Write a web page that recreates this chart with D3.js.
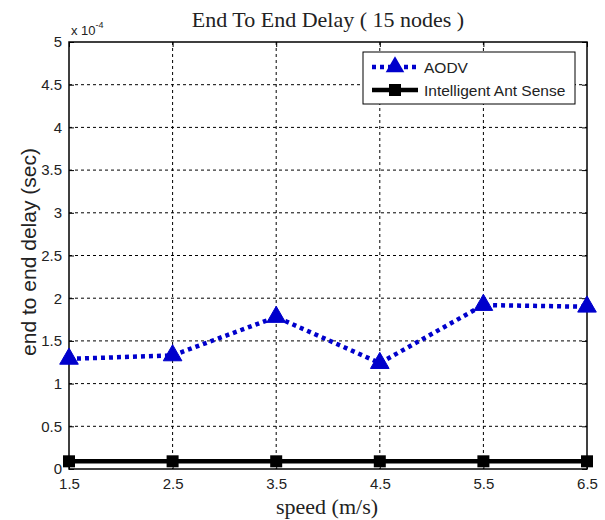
<!DOCTYPE html>
<html>
<head>
<meta charset="utf-8">
<script src="https://cdn.jsdelivr.net/npm/d3@7"></script>
<style>
  html, body { margin: 0; padding: 0; background: #fff; }
  svg { display: block; }
</style>
</head>
<body>
<script>
// Mobility speeds (m/s) and end-to-end delay values (units of 1e-4 s)
const speeds = [1.5, 2.5, 3.5, 4.5, 5.5, 6.5];
const aodvDelay = [1.29, 1.33, 1.78, 1.24, 1.92, 1.90];
const antSenseDelay = [0.09, 0.09, 0.09, 0.09, 0.09, 0.09];
const xTicks = [1.5, 2.5, 3.5, 4.5, 5.5, 6.5];
const yTicks = [0, 0.5, 1, 1.5, 2, 2.5, 3, 3.5, 4, 4.5, 5];
const seriesNames = ["AODV", "Intelligent Ant Sense"];

const W = 605, H = 520;
const margin = { left: 69, right: 18, top: 42, bottom: 51 };

const svg = d3.select("body").append("svg").attr("width", W).attr("height", H);

const x = d3.scaleLinear().domain([1.5, 6.5]).range([margin.left, W - margin.right]);
const y = d3.scaleLinear().domain([0, 5]).range([H - margin.bottom, margin.top]);

const x0 = x.range()[0], x1 = x.range()[1];
const y0 = y.range()[0], y1 = y.range()[1];

// Grid (dashed, MATLAB style)
const grid = svg.append("g");
grid.selectAll("line.gx").data(xTicks.slice(1, -1)).join("line")
  .attr("x1", d => x(d)).attr("x2", d => x(d))
  .attr("y1", y1).attr("y2", y0)
  .attr("stroke", "#000").attr("stroke-width", 1).attr("stroke-dasharray", "3,3");
grid.selectAll("line.gy").data(yTicks.slice(1, -1)).join("line")
  .attr("x1", x0).attr("x2", x1)
  .attr("y1", d => y(d)).attr("y2", d => y(d))
  .attr("stroke", "#000").attr("stroke-width", 1).attr("stroke-dasharray", "3,3");

// Axes with inward ticks on all four sides
const tickFont = "Liberation Sans, Arial, sans-serif";
const serifFont = "Liberation Serif, Times New Roman, serif";
const axB = svg.append("g").attr("transform", `translate(0,${y0})`)
  .call(d3.axisBottom(x).tickValues(xTicks).tickSize(-5).tickPadding(9).tickFormat(d3.format("")));
const axL = svg.append("g").attr("transform", `translate(${x0},0)`)
  .call(d3.axisLeft(y).tickValues(yTicks).tickSize(-5).tickPadding(7).tickFormat(d3.format("")));
const axT = svg.append("g").attr("transform", `translate(0,${y1})`)
  .call(d3.axisTop(x).tickValues(xTicks).tickSize(-5).tickFormat(""));
const axR = svg.append("g").attr("transform", `translate(${x1},0)`)
  .call(d3.axisRight(y).tickValues(yTicks).tickSize(-5).tickFormat(""));
[axB, axL, axT, axR].forEach(g => {
  g.select(".domain").remove();
  g.selectAll("line").attr("stroke", "#000");
  g.selectAll("text").attr("font-family", tickFont).attr("font-size", 15).attr("fill", "#222");
});

// Plot frame
svg.append("rect").attr("x", x0).attr("y", y1).attr("width", x1 - x0).attr("height", y0 - y1)
  .attr("fill", "none").attr("stroke", "#000").attr("stroke-width", 1.5);

// Series lines
const line = d3.line().x((d, i) => x(speeds[i])).y(d => y(d));
const blue = "#0000cc";

svg.append("path").datum(antSenseDelay).attr("d", line)
  .attr("fill", "none").attr("stroke", "#000").attr("stroke-width", 4.5);
svg.selectAll("rect.sq").data(antSenseDelay).join("rect")
  .attr("x", (d, i) => x(speeds[i]) - 6).attr("y", d => y(d) - 6)
  .attr("width", 12).attr("height", 12).attr("fill", "#000");

svg.append("path").datum(aodvDelay).attr("d", line)
  .attr("fill", "none").attr("stroke", blue).attr("stroke-width", 4.5)
  .attr("stroke-dasharray", "4,4");
const tri = d3.symbol().type(d3.symbolTriangle).size(150);
svg.selectAll("path.tri").data(aodvDelay).join("path")
  .attr("d", tri)
  .attr("transform", (d, i) => `translate(${x(speeds[i])},${y(d)})`)
  .attr("fill", blue).attr("stroke", blue).attr("stroke-width", 1);

// Exponent label
const expo = svg.append("text").attr("x", 71).attr("y", 35)
  .attr("font-family", tickFont).attr("font-size", 13).attr("fill", "#222");
expo.append("tspan").text("x 10");
expo.append("tspan").attr("dy", -7).attr("font-size", 9).text("-4");

// Title and axis labels
svg.append("text").attr("x", 328).attr("y", 27).attr("text-anchor", "middle")
  .attr("font-family", serifFont).attr("font-size", 22).attr("fill", "#222")
  .text("End To End Delay ( 15 nodes )");
svg.append("text").attr("x", 327).attr("y", 514).attr("text-anchor", "middle")
  .attr("font-family", serifFont).attr("font-size", 22).attr("fill", "#222")
  .text("speed (m/s)");
svg.append("text").attr("transform", "translate(36,252) rotate(-90)")
  .attr("text-anchor", "middle")
  .attr("font-family", tickFont).attr("font-size", 21).attr("fill", "#222")
  .text("end to end delay (sec)");

// Legend
const lg = svg.append("g");
lg.append("rect").attr("x", 363).attr("y", 52).attr("width", 212).attr("height", 52)
  .attr("fill", "#fff").attr("stroke", "#000").attr("stroke-width", 1);
const rows = [
  { name: seriesNames[0], yy: 67 },
  { name: seriesNames[1], yy: 90 }
];
lg.append("line").attr("x1", 372).attr("x2", 418).attr("y1", rows[0].yy).attr("y2", rows[0].yy)
  .attr("stroke", blue).attr("stroke-width", 4.5).attr("stroke-dasharray", "4,4");
lg.append("path").attr("d", tri).attr("transform", `translate(395,${rows[0].yy})`).attr("fill", blue);
lg.append("line").attr("x1", 372).attr("x2", 418).attr("y1", rows[1].yy).attr("y2", rows[1].yy)
  .attr("stroke", "#000").attr("stroke-width", 4.5);
lg.append("rect").attr("x", 389).attr("y", rows[1].yy - 6).attr("width", 12).attr("height", 12).attr("fill", "#000");
rows.forEach(r => {
  lg.append("text").attr("x", 424).attr("y", r.yy).attr("dy", "0.36em")
    .attr("font-family", tickFont).attr("font-size", 15.5).attr("fill", "#222").text(r.name);
});
</script>
</body>
</html>
